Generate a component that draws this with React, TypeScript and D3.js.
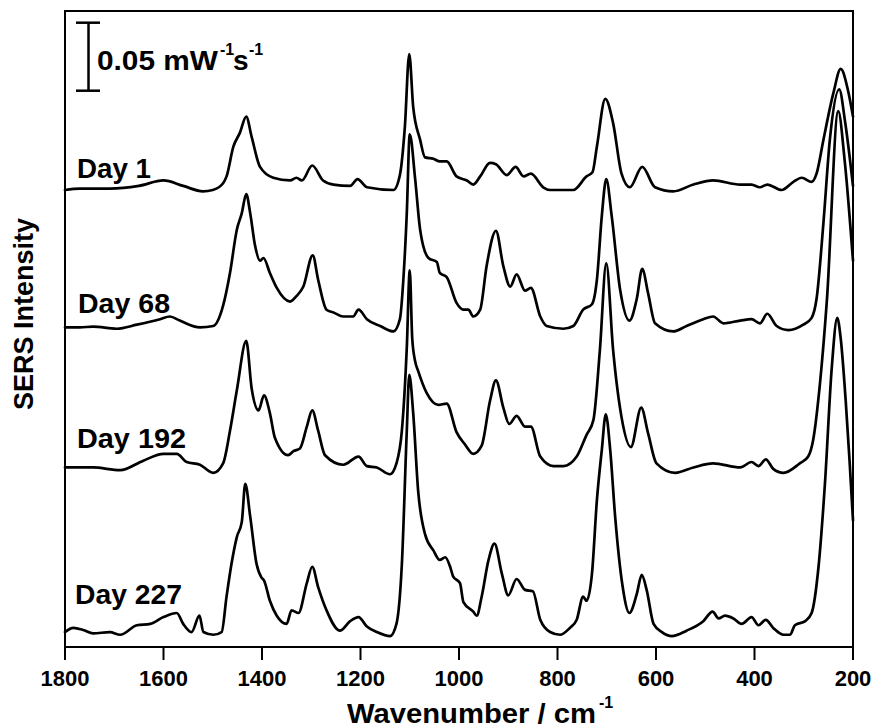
import React from 'react';
import * as d3 from 'd3';

// ---- Data (wavenumber cm^-1, SERS intensity in 10^-3 mW^-1 s^-1 relative to each trace's baseline)
const xTickValues = [1800, 1600, 1400, 1200, 1000, 800, 600, 400, 200];
const seriesLabels = ['Day 1', 'Day 68', 'Day 192', 'Day 227'];
const seriesOffsets = [336, 235, 132, 11];
const scaleBarValue = 50; // 0.05 mW^-1 s^-1

const day1: [number, number][] = [
  [1800, 0], [1770, 1], [1709, 1], [1650, 3], [1600, 7], [1560, 3], [1520, -1], [1500, 0], [1479, 5],
  [1472, 10], [1458, 32], [1445, 42], [1432, 54], [1421, 39], [1404, 17], [1377, 9], [1343, 7],
  [1330, 9], [1319, 7], [1298, 18], [1276, 7], [1255, 4], [1221, 3], [1206, 8], [1187, 2], [1133, 0],
  [1120, 11], [1110, 46], [1101, 100], [1093, 61], [1079, 37], [1069, 24], [1052, 23], [1039, 21],
  [1025, 21], [1005, 10], [984, 7], [971, 4], [957, 10], [937, 20], [925, 19], [903, 11], [885, 17],
  [869, 10], [854, 12], [829, 2], [815, 0], [768, 0], [741, 10], [729, 13], [720, 32], [703, 67],
  [687, 49], [670, 12], [653, 2], [628, 17], [602, 2], [565, -1], [524, 4], [484, 7], [429, 4],
  [406, 4], [389, 2], [374, 4], [345, 0], [321, 6], [304, 9], [284, 6], [274, 12], [260, 37],
  [240, 71], [225, 89], [210, 73], [200, 54],
];

const day68: [number, number][] = [
  [1800, 0], [1770, 0], [1743, 0.5], [1695, -1], [1654, 2], [1607, 6], [1587, 8], [1567, 5],
  [1526, 0], [1499, 1], [1479, 16], [1465, 40], [1451, 72], [1441, 84], [1432, 98], [1424, 84],
  [1414, 60], [1404, 49], [1397, 51], [1384, 40], [1370, 29], [1343, 19], [1330, 23], [1316, 30],
  [1297, 53], [1286, 35], [1269, 13], [1255, 11], [1235, 8], [1215, 8], [1204, 13], [1187, 6],
  [1160, 1], [1133, -3], [1120, 6], [1113, 35], [1106, 84], [1100, 142], [1089, 109], [1079, 72],
  [1062, 51], [1045, 48], [1039, 40], [1025, 37], [1005, 18], [991, 13], [981, 13], [971, 8],
  [957, 13], [944, 45], [925, 71], [910, 45], [896, 30], [883, 39], [866, 27], [854, 29], [835, 8],
  [822, 1], [788, -1], [768, 1], [748, 13], [730, 17], [720, 35], [710, 82], [701, 109], [690, 82],
  [673, 28], [654, 5], [639, 21], [628, 43], [616, 25], [602, 3], [565, -3], [538, 1], [504, 6],
  [484, 8], [463, 3], [429, 5], [406, 6], [389, 3], [374, 10], [355, 1], [331, -2], [301, 2],
  [284, 7], [274, 21], [260, 77], [247, 138], [228, 175], [216, 151], [200, 104],
];

const day192: [number, number][] = [
  [1800, 0], [1743, 0], [1688, -2], [1641, 5], [1600, 10], [1573, 10], [1553, 4], [1526, 2],
  [1499, -4], [1479, 3], [1465, 27], [1451, 57], [1432, 93], [1421, 58], [1407, 42], [1396, 53],
  [1384, 40], [1374, 22], [1347, 9], [1336, 12], [1323, 14], [1309, 30], [1298, 42], [1286, 27],
  [1272, 9], [1235, 2], [1204, 8], [1187, 1], [1167, 0], [1140, -5], [1127, 3], [1116, 27],
  [1106, 88], [1100, 145], [1095, 95], [1089, 78], [1083, 71], [1066, 55], [1042, 46], [1025, 47],
  [1005, 26], [988, 17], [971, 10], [954, 16], [937, 49], [925, 64], [910, 44], [898, 32], [883, 38],
  [866, 30], [854, 30], [835, 8], [808, 1], [788, 1], [761, 8], [741, 24], [727, 35], [714, 86],
  [701, 150], [687, 86], [670, 37], [651, 15], [630, 44], [616, 25], [599, 3], [561, -4], [524, 0],
  [484, 3], [429, 0], [406, 4], [392, 1], [377, 6], [362, -1], [341, -4], [308, 3], [291, 8],
  [281, 20], [267, 62], [253, 123], [230, 262], [217, 226], [200, 152],
];

const day227: [number, number][] = [
  [1800, 0], [1783, 3], [1763, 1.5], [1743, -1], [1709, 0], [1688, -2], [1654, 5], [1627, 6],
  [1600, 11], [1573, 14], [1560, 6], [1543, 0], [1527, 12], [1519, 0], [1499, -2], [1482, 0],
  [1472, 26], [1462, 50], [1451, 70], [1441, 81], [1434, 109], [1424, 85], [1411, 50], [1401, 40],
  [1396, 38], [1384, 23], [1370, 12], [1350, 6], [1340, 16], [1326, 14], [1309, 36], [1298, 48],
  [1286, 33], [1269, 16], [1242, 1], [1221, 8], [1204, 11], [1187, 4], [1167, 0], [1140, -3],
  [1127, 6], [1116, 50], [1106, 148], [1101, 189], [1093, 161], [1083, 104], [1069, 72], [1052, 60],
  [1039, 53], [1028, 55], [1018, 48], [1012, 41], [998, 36], [991, 22], [971, 15], [964, 12],
  [954, 26], [940, 53], [928, 65], [913, 43], [900, 27], [883, 39], [866, 31], [850, 30], [835, 9],
  [815, 0], [795, -2], [775, 3], [761, 9], [748, 26], [741, 23], [730, 43], [720, 97], [710, 134],
  [702, 160], [693, 134], [683, 85], [668, 34], [654, 14], [639, 28], [629, 42], [619, 31], [605, 6],
  [588, 0], [568, -3], [538, 1], [504, 8], [485, 15], [473, 10], [460, 12], [443, 10], [426, 6],
  [406, 11], [392, 5], [377, 9], [362, 3], [341, -2], [328, -2], [318, 5], [297, 8], [284, 14],
  [270, 48], [257, 109], [243, 195], [232, 231], [225, 216], [215, 171], [207, 126], [200, 82],
];

const spectra = [day1, day68, day192, day227];

const FONT = '"Liberation Sans", Arial, Helvetica, sans-serif';

export default function App() {
  const left = 65, right = 853, top = 11, bottom = 647;
  const x = d3.scaleLinear().domain([1800, 200]).range([left, right]);
  const y = d3.scaleLinear().domain([0, 467.6]).range([bottom, top]);

  const labelPos = [
    { x: 77, y: 178, w: 74 },
    { x: 78, y: 313, w: 92 },
    { x: 77, y: 448, w: 109 },
    { x: 75, y: 604, w: 107 },
  ];

  const line = (offset: number) =>
    d3.line<[number, number]>()
      .x((d) => x(d[0]))
      .y((d) => y(d[1] + offset))
      .curve(d3.curveMonotoneX);

  const barX = 88.5;
  const barTop = y(459);
  const barBottom = y(459 - scaleBarValue);

  return (
    <svg width={876} height={728} style={{ position: 'absolute', left: 0, top: 0, background: '#fff' }}
      fontFamily={FONT}>
      <rect x={0} y={0} width={876} height={728} fill="#fff" />
      {spectra.map((s, i) => (
        <path key={i} d={line(seriesOffsets[i])(s) || ''} fill="none" stroke="#000"
          strokeWidth={2.7} strokeLinejoin="round" strokeLinecap="round" />
      ))}
      {/* frame */}
      <rect x={left} y={top} width={right - left} height={bottom - top} fill="none" stroke="#000" strokeWidth={2} />
      {/* x ticks */}
      {xTickValues.map((t) => (
        <g key={t}>
          <line x1={x(t)} x2={x(t)} y1={bottom} y2={bottom + 13} stroke="#000" strokeWidth={2} />
          <text x={x(t)} y={686} textAnchor="middle" fontSize={22} fontWeight="bold">{t}</text>
        </g>
      ))}
      {/* axis titles */}
      <text x={347} y={723} fontSize={27} fontWeight="bold" textLength={249} lengthAdjust="spacingAndGlyphs">
        Wavenumber / cm
      </text>
      <text x={599} y={708} fontSize={16} fontWeight="bold">-1</text>
      <text transform="translate(33,314) rotate(-90)" textAnchor="middle" fontSize={27} fontWeight="bold">
        SERS Intensity
      </text>
      {/* series labels */}
      {seriesLabels.map((l, i) => (
        <text key={l} x={labelPos[i].x} y={labelPos[i].y} fontSize={28} fontWeight="bold"
          textLength={labelPos[i].w} lengthAdjust="spacingAndGlyphs">{l}</text>
      ))}
      {/* scale bar */}
      <line x1={barX} x2={barX} y1={barTop} y2={barBottom} stroke="#000" strokeWidth={2.5} />
      <line x1={76} x2={100} y1={barTop} y2={barTop} stroke="#000" strokeWidth={2.5} />
      <line x1={76} x2={100} y1={barBottom} y2={barBottom} stroke="#000" strokeWidth={2.5} />
      <text x={97} y={70} fontSize={28} fontWeight="bold" textLength={121} lengthAdjust="spacingAndGlyphs">0.05 mW</text>
      <text x={220} y={55} fontSize={16} fontWeight="bold">-1</text>
      <text x={233} y={70} fontSize={28} fontWeight="bold">s</text>
      <text x={249} y={55} fontSize={16} fontWeight="bold">-1</text>
    </svg>
  );
}
